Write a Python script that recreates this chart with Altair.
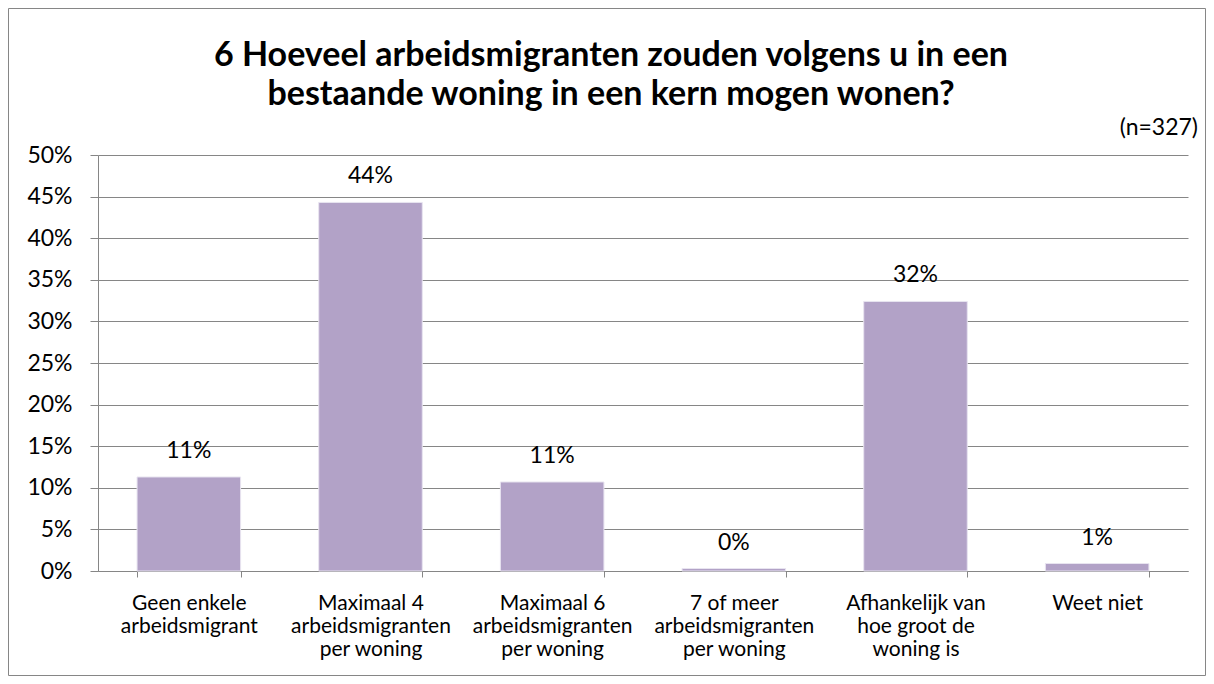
import altair as alt
import pandas as pd

categories = [
    "Geen enkele\narbeidsmigrant",
    "Maximaal 4\narbeidsmigranten\nper woning",
    "Maximaal 6\narbeidsmigranten\nper woning",
    "7 of meer\narbeidsmigranten\nper woning",
    "Afhankelijk van\nhoe groot de\nwoning is",
    "Weet niet",
]
values = [0.113, 0.443, 0.107, 0.003, 0.324, 0.009]
title_line1 = "6 Hoeveel arbeidsmigranten zouden volgens u in een"
title_line2 = "bestaande woning in een kern mogen wonen?"
note = "(n=327)"

FONT = "Lato"
W, H = 1090, 416

df = pd.DataFrame({"cat": categories, "val": values})

x = alt.X(
    "cat:N",
    sort=categories,
    title=None,
    scale=alt.Scale(paddingInner=0.43, paddingOuter=0.215),
    axis=alt.Axis(
        labelExpr="split(datum.label, '\\n')",
        labelAngle=0,
        labelFontSize=21,
        labelFont=FONT,
        labelColor="#000000",
        labelLineHeight=23,
        labelPadding=15,
        tickBand="extent",
        tickSize=6,
        tickColor="#868686",
        domainColor="#868686",
        labelLimit=300,
    ),
)
y = alt.Y(
    "val:Q",
    title=None,
    scale=alt.Scale(domain=[0, 0.5]),
    axis=alt.Axis(
        format=".0%",
        values=[i / 100 for i in range(0, 51, 5)],
        labelFontSize=23,
        labelFont=FONT,
        labelColor="#000000",
        labelPadding=18,
        tickSize=8,
        tickColor="#868686",
        domainColor="#868686",
        gridColor="#868686",
        gridWidth=1,
    ),
)

bars = alt.Chart(df).mark_bar(color="#B2A2C7", stroke="#E8E4F0", strokeWidth=1).encode(x=x, y=y)
labels = alt.Chart(df).mark_text(
    baseline="alphabetic", dy=-19, fontSize=23, font=FONT, color="#000000"
).encode(x=alt.X("cat:N", sort=categories), y="val:Q", text=alt.Text("val:Q", format=".0%"))

note_df = pd.DataFrame({"t": [note], "t1": [title_line1], "t2": [title_line2]})
note_mark = alt.Chart(note_df).mark_text(
    align="right", baseline="middle", fontSize=23, font=FONT, color="#000000"
).encode(text="t:N", x=alt.value(W + 10), y=alt.value(-27))

t1 = alt.Chart(note_df).mark_text(
    align="center", baseline="alphabetic", fontSize=34, fontWeight="bold", font=FONT, color="#000000"
).encode(text="t1:N", x=alt.value(513), y=alt.value(-89))
t2 = alt.Chart(note_df).mark_text(
    align="center", baseline="alphabetic", fontSize=34, fontWeight="bold", font=FONT, color="#000000"
).encode(text="t2:N", x=alt.value(513), y=alt.value(-50))

frame = alt.Chart(note_df).mark_rect(
    fill=None, stroke="#868686", strokeWidth=1
).encode(x=alt.value(-89.5), x2=alt.value(W + 17.5), y=alt.value(-146.5), y2=alt.value(H + 104.5))

chart = alt.layer(frame, bars, labels, note_mark, t1, t2).properties(
    width=W,
    height=H,
    autosize=alt.AutoSizeParams(type="none"),
    padding={"left": 90, "top": 147, "right": 18, "bottom": 105},
).configure_view(stroke=None).configure_axis(grid=True).configure_axisX(grid=False)

chart.save("out.html", embed_options={"renderer": "svg", "actions": False})
